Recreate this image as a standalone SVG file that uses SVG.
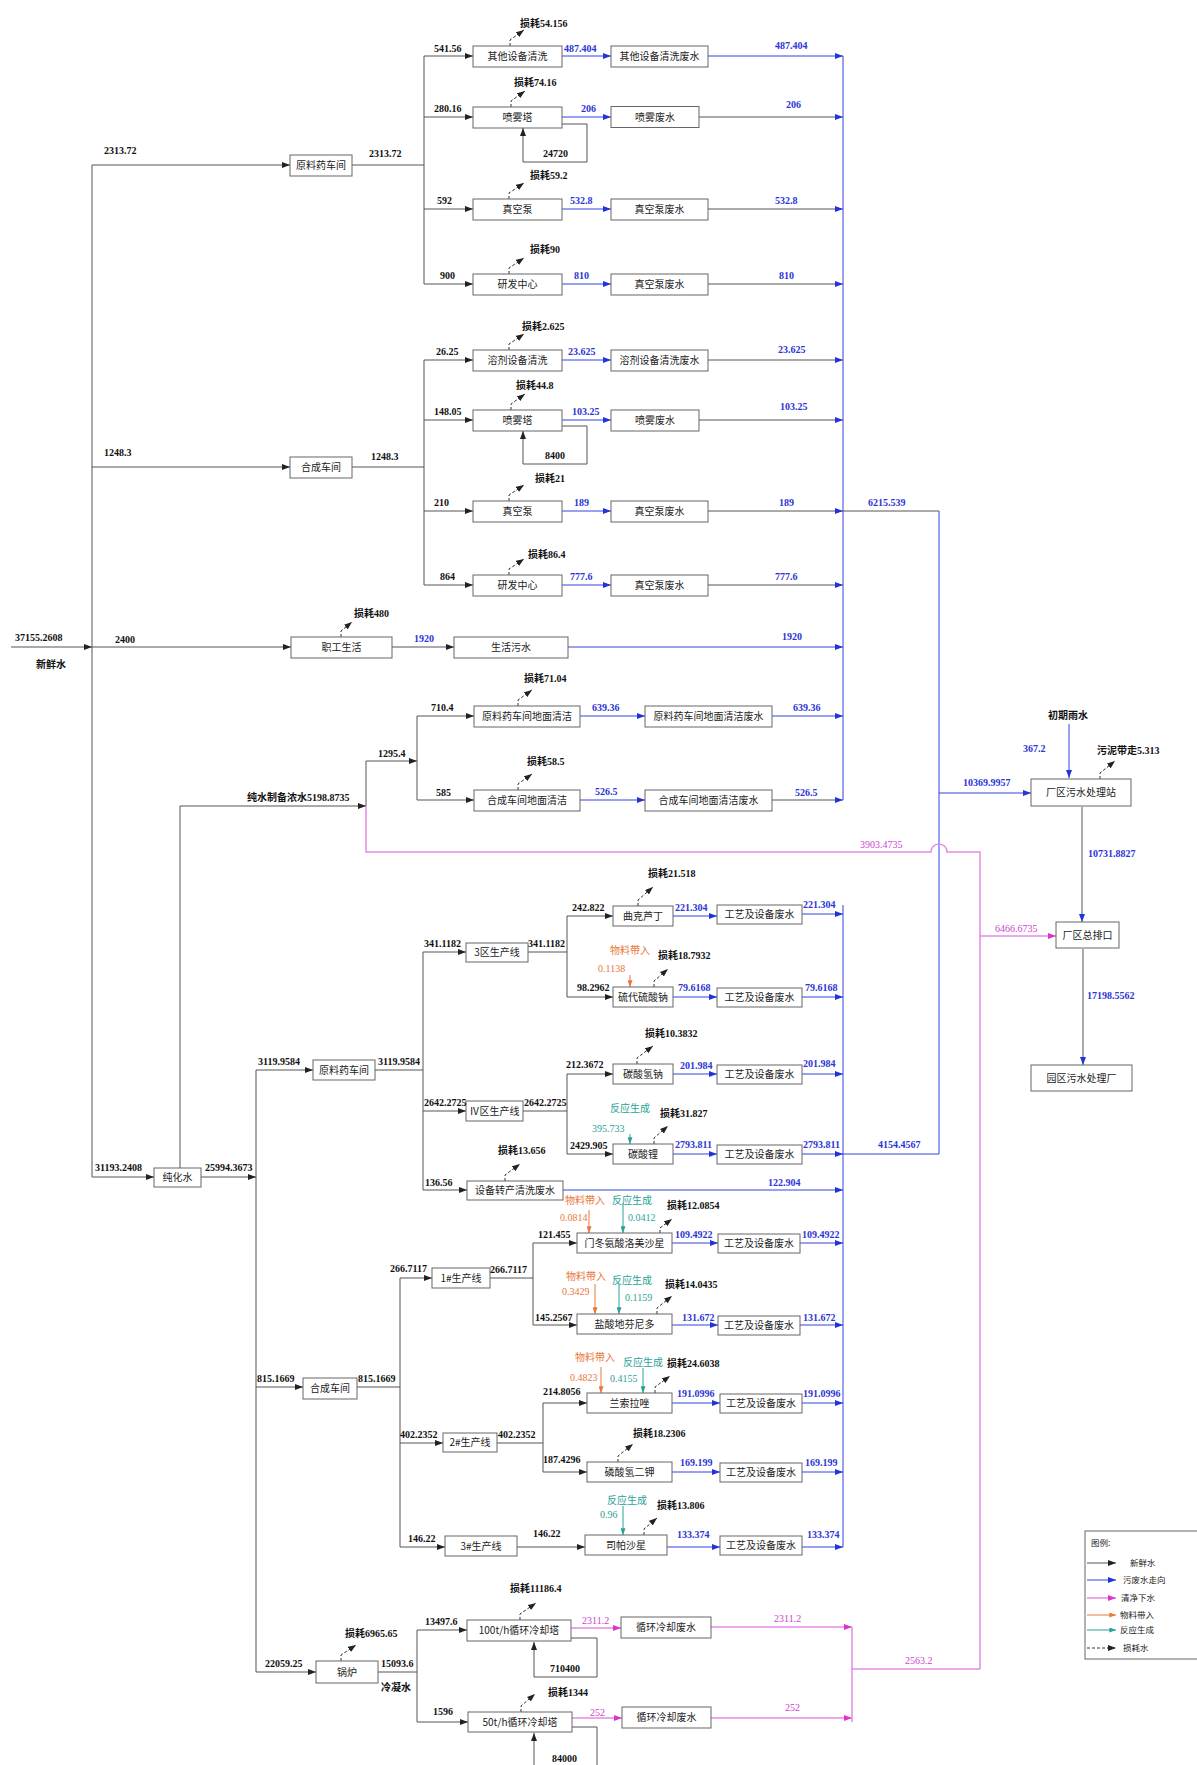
<svg xmlns="http://www.w3.org/2000/svg" width="1197" height="1765" viewBox="0 0 1197 1765">
<defs>
<style>
.box{fill:#fff;stroke:#666;stroke-width:1}
.bt{font-family:"Noto Sans CJK SC",sans-serif;font-size:10px;fill:#222;text-anchor:middle}
.n{font-family:"Liberation Serif","Noto Sans CJK SC",serif;font-size:10px;font-weight:bold;fill:#111}
.nb{font-family:"Liberation Serif","Noto Sans CJK SC",serif;font-size:10px;font-weight:bold;fill:#2b35d6}
.np{font-family:"Liberation Serif","Noto Sans CJK SC",serif;font-size:10px;fill:#cc44cc}
.no{font-family:"Liberation Serif","Noto Sans CJK SC",serif;font-size:10px;fill:#e8773a}
.nt{font-family:"Liberation Serif","Noto Sans CJK SC",serif;font-size:10px;fill:#2aa198}
.lg{font-family:"Noto Sans CJK SC",sans-serif;font-size:8.5px;fill:#222}
.k{stroke:#555;stroke-width:1;fill:none}
.b{stroke:#3344dd;stroke-width:1;fill:none}
.p{stroke:#e68ae6;stroke-width:1.5;fill:none}
.o{stroke:#e8773a;stroke-width:1;fill:none}
.t{stroke:#2aa198;stroke-width:1;fill:none}
.d{stroke:#333;stroke-width:1;fill:none;stroke-dasharray:3 2}
</style>
<marker id="ak" viewBox="0 0 8 6" refX="8" refY="3" markerWidth="8" markerHeight="6" markerUnits="userSpaceOnUse" orient="auto"><path d="M0,0L8,3L0,6z" fill="#222"/></marker>
<marker id="ab" viewBox="0 0 8 6" refX="8" refY="3" markerWidth="8" markerHeight="6" markerUnits="userSpaceOnUse" orient="auto"><path d="M0,0L8,3L0,6z" fill="#2233dd"/></marker>
<marker id="ap" viewBox="0 0 8 6" refX="8" refY="3" markerWidth="8" markerHeight="6" markerUnits="userSpaceOnUse" orient="auto"><path d="M0,0L8,3L0,6z" fill="#dd33cc"/></marker>
<marker id="ao" viewBox="0 0 8 6" refX="8" refY="3" markerWidth="7" markerHeight="5" markerUnits="userSpaceOnUse" orient="auto"><path d="M0,0L8,3L0,6z" fill="#e8773a"/></marker>
<marker id="at" viewBox="0 0 8 6" refX="8" refY="3" markerWidth="7" markerHeight="5" markerUnits="userSpaceOnUse" orient="auto"><path d="M0,0L8,3L0,6z" fill="#2aa198"/></marker>
</defs>
<rect x="0" y="0" width="1197" height="1765" fill="#fff"/>

<g id="connectors">
<path class="k" d="M11,647H92" marker-end="url(#ak)"/>
<path class="k" d="M92,165V1177"/>
<path class="k" d="M92,165H290" marker-end="url(#ak)"/>
<path class="k" d="M92,467H290" marker-end="url(#ak)"/>
<path class="k" d="M92,647H291" marker-end="url(#ak)"/>
<path class="k" d="M92,1177H154" marker-end="url(#ak)"/>
<path class="k" d="M352,165H424M424,56V284"/>
<path class="k" d="M424,56H473" marker-end="url(#ak)"/>
<path class="k" d="M424,117H473" marker-end="url(#ak)"/>
<path class="k" d="M424,209H473" marker-end="url(#ak)"/>
<path class="k" d="M424,284H473" marker-end="url(#ak)"/>
<path class="b" d="M562,56H611" marker-end="url(#ab)"/>
<path class="b" d="M562,117H611" marker-end="url(#ab)"/>
<path class="b" d="M562,209H611" marker-end="url(#ab)"/>
<path class="b" d="M562,284H611" marker-end="url(#ab)"/>
<path class="b" d="M708,56H843" marker-end="url(#ab)"/>
<path class="k" d="M699,117H843" marker-end="url(#ab)"/>
<path class="k" d="M708,209H843" marker-end="url(#ab)"/>
<path class="k" d="M708,284H843" marker-end="url(#ab)"/>
<path class="k" d="M562,124H587V162H523V128" marker-end="url(#ak)"/>
<path class="k" d="M352,467H424M424,360V585"/>
<path class="k" d="M424,360H473" marker-end="url(#ak)"/>
<path class="k" d="M424,420H473" marker-end="url(#ak)"/>
<path class="k" d="M424,511H473" marker-end="url(#ak)"/>
<path class="k" d="M424,585H473" marker-end="url(#ak)"/>
<path class="b" d="M562,360H611" marker-end="url(#ab)"/>
<path class="b" d="M562,420H611" marker-end="url(#ab)"/>
<path class="b" d="M562,511H611" marker-end="url(#ab)"/>
<path class="b" d="M562,585H611" marker-end="url(#ab)"/>
<path class="k" d="M708,360H843" marker-end="url(#ab)"/>
<path class="k" d="M699,420H843" marker-end="url(#ab)"/>
<path class="k" d="M708,511H843" marker-end="url(#ab)"/>
<path class="k" d="M708,585H843" marker-end="url(#ab)"/>
<path class="k" d="M562,426H587V464H523V431" marker-end="url(#ak)"/>
<path class="k" d="M392,647H454" marker-end="url(#ak)"/>
<path class="b" d="M568,647H843" marker-end="url(#ab)"/>
<path class="k" d="M180,1168V806H366" marker-end="url(#ak)"/>
<path class="k" d="M366,761V806"/>
<path class="k" d="M366,761H417" marker-end="url(#ak)"/>
<path class="k" d="M417,716V800"/>
<path class="k" d="M417,716H474" marker-end="url(#ak)"/>
<path class="k" d="M417,800H474" marker-end="url(#ak)"/>
<path class="b" d="M580,716H645" marker-end="url(#ab)"/>
<path class="b" d="M580,800H645" marker-end="url(#ab)"/>
<path class="b" d="M772,716H843" marker-end="url(#ab)"/>
<path class="k" d="M772,800H843" marker-end="url(#ab)"/>
<path class="b" d="M843,56V800"/>
<path class="k" d="M843,511H939"/>
<path class="b" d="M939,511V1154"/>
<path class="b" d="M939,793H1031" marker-end="url(#ab)"/>
<path class="b" d="M843,905V1547"/>
<path class="b" d="M843,1154H939"/>
<path class="p" d="M366,806V852H931A8,8 0 0 1 947,852H980V1669"/>
<path class="p" d="M980,936H1056" marker-end="url(#ap)"/>
<path class="b" d="M1069,724V778" marker-end="url(#ab)"/>
<path class="k" d="M1082,807V922" marker-end="url(#ab)"/>
<path class="k" d="M1083,949V1065" marker-end="url(#ab)"/>
<path class="k" d="M201,1177H256" marker-end="url(#ak)"/>
<path class="k" d="M256,1070V1672"/>
<path class="k" d="M256,1070H313" marker-end="url(#ak)"/>
<path class="k" d="M375,1070H423M423,952V1190"/>
<path class="k" d="M423,952H466" marker-end="url(#ak)"/>
<path class="k" d="M423,1111H466" marker-end="url(#ak)"/>
<path class="k" d="M423,1190H467" marker-end="url(#ak)"/>
<path class="k" d="M528,952H567M567,916V997"/>
<path class="k" d="M567,916H613" marker-end="url(#ak)"/>
<path class="k" d="M567,997H613" marker-end="url(#ak)"/>
<path class="k" d="M523,1111H567M567,1074V1154"/>
<path class="k" d="M567,1074H613" marker-end="url(#ak)"/>
<path class="k" d="M567,1154H613" marker-end="url(#ak)"/>
<path class="b" d="M673,916H717" marker-end="url(#ab)"/>
<path class="b" d="M673,997H717" marker-end="url(#ab)"/>
<path class="b" d="M673,1074H717" marker-end="url(#ab)"/>
<path class="b" d="M673,1154H717" marker-end="url(#ab)"/>
<path class="b" d="M802,914H843" marker-end="url(#ab)"/>
<path class="b" d="M802,997H843" marker-end="url(#ab)"/>
<path class="b" d="M802,1074H843" marker-end="url(#ab)"/>
<path class="b" d="M802,1154H843" marker-end="url(#ab)"/>
<path class="b" d="M563,1190H843" marker-end="url(#ab)"/>
<path class="k" d="M256,1387H303" marker-end="url(#ak)"/>
<path class="k" d="M357,1387H400M400,1278V1547"/>
<path class="k" d="M400,1278H432" marker-end="url(#ak)"/>
<path class="k" d="M400,1443H443" marker-end="url(#ak)"/>
<path class="k" d="M400,1547H445" marker-end="url(#ak)"/>
<path class="k" d="M490,1278H533M533,1243V1325"/>
<path class="k" d="M533,1243H577" marker-end="url(#ak)"/>
<path class="k" d="M533,1325H577" marker-end="url(#ak)"/>
<path class="k" d="M497,1443H543M543,1403V1472"/>
<path class="k" d="M543,1403H587" marker-end="url(#ak)"/>
<path class="k" d="M543,1472H587" marker-end="url(#ak)"/>
<path class="k" d="M517,1547H585" marker-end="url(#ak)"/>
<path class="b" d="M672,1243H718" marker-end="url(#ab)"/>
<path class="b" d="M672,1325H718" marker-end="url(#ab)"/>
<path class="b" d="M672,1403H720" marker-end="url(#ab)"/>
<path class="b" d="M672,1472H720" marker-end="url(#ab)"/>
<path class="b" d="M667,1547H720" marker-end="url(#ab)"/>
<path class="b" d="M800,1243H843" marker-end="url(#ab)"/>
<path class="b" d="M800,1325H843" marker-end="url(#ab)"/>
<path class="b" d="M802,1403H843" marker-end="url(#ab)"/>
<path class="b" d="M802,1472H843" marker-end="url(#ab)"/>
<path class="b" d="M802,1547H843" marker-end="url(#ab)"/>
<path class="k" d="M256,1672H316" marker-end="url(#ak)"/>
<path class="k" d="M378,1672H417M417,1630V1722"/>
<path class="k" d="M417,1630H467" marker-end="url(#ak)"/>
<path class="k" d="M417,1722H468" marker-end="url(#ak)"/>
<path class="k" d="M571,1638H597V1677H534V1642" marker-end="url(#ak)"/>
<path class="k" d="M572,1727H597V1775H534V1733" marker-end="url(#ak)"/>
<path class="p" d="M571,1628H621" marker-end="url(#ap)"/>
<path class="p" d="M711,1627H852" marker-end="url(#ap)"/>
<path class="p" d="M572,1718H622" marker-end="url(#ap)"/>
<path class="p" d="M711,1718H852" marker-end="url(#ap)"/>
<path class="p" d="M852,1627V1722M852,1669H980"/>
<path class="d" d="M510,46V40L524,30" marker-end="url(#ak)"/>
<path class="d" d="M511,107V101L525,91" marker-end="url(#ak)"/>
<path class="d" d="M509,199V193L524,183" marker-end="url(#ak)"/>
<path class="d" d="M509,274V268L524,258" marker-end="url(#ak)"/>
<path class="d" d="M509,350V344L524,334" marker-end="url(#ak)"/>
<path class="d" d="M511,410V404L525,394" marker-end="url(#ak)"/>
<path class="d" d="M509,501V495L524,485" marker-end="url(#ak)"/>
<path class="d" d="M509,575V569L524,559" marker-end="url(#ak)"/>
<path class="d" d="M341,637V631L352,622" marker-end="url(#ak)"/>
<path class="d" d="M518,706V700L532,690" marker-end="url(#ak)"/>
<path class="d" d="M518,790V784L532,774" marker-end="url(#ak)"/>
<path class="d" d="M638,906V900L653,887" marker-end="url(#ak)"/>
<path class="d" d="M654,987V981L668,969" marker-end="url(#ak)"/>
<path class="d" d="M637,1064V1058L653,1046" marker-end="url(#ak)"/>
<path class="d" d="M654,1144V1138L668,1126" marker-end="url(#ak)"/>
<path class="d" d="M505,1181V1175L520,1164" marker-end="url(#ak)"/>
<path class="d" d="M660,1233V1228L672,1219" marker-end="url(#ak)"/>
<path class="d" d="M657,1314V1308L672,1296" marker-end="url(#ak)"/>
<path class="d" d="M655,1393V1387L670,1376" marker-end="url(#ak)"/>
<path class="d" d="M618,1462V1456L633,1444" marker-end="url(#ak)"/>
<path class="d" d="M644,1535V1529L657,1518" marker-end="url(#ak)"/>
<path class="d" d="M341,1661V1655L356,1645" marker-end="url(#ak)"/>
<path class="d" d="M520,1620V1614L536,1603" marker-end="url(#ak)"/>
<path class="d" d="M521,1712V1706L535,1694" marker-end="url(#ak)"/>
<path class="d" d="M1100,779V773L1115,761" marker-end="url(#ak)"/>
<path class="o" d="M630,975V987" marker-end="url(#ao)"/>
<path class="t" d="M630,1134V1144" marker-end="url(#at)"/>
<path class="o" d="M589,1210V1233" marker-end="url(#ao)"/>
<path class="t" d="M623,1203V1233" marker-end="url(#at)"/>
<path class="o" d="M595,1284V1314" marker-end="url(#ao)"/>
<path class="t" d="M619,1284V1314" marker-end="url(#at)"/>
<path class="o" d="M601,1367V1393" marker-end="url(#ao)"/>
<path class="t" d="M643,1368V1393" marker-end="url(#at)"/>
<path class="t" d="M623,1506V1535" marker-end="url(#at)"/>
</g>

<g id="nodes">
<g id="n-ws1"><rect class="box" x="290" y="155" width="62" height="21"/><text class="bt" x="321" y="169">原料药车间</text></g>
<g id="n-a1"><rect class="box" x="473" y="46" width="89" height="21"/><text class="bt" x="517.5" y="60">其他设备清洗</text></g>
<g id="n-a2"><rect class="box" x="473" y="107" width="89" height="21"/><text class="bt" x="517.5" y="121">喷雾塔</text></g>
<g id="n-a3"><rect class="box" x="473" y="199" width="89" height="21"/><text class="bt" x="517.5" y="213">真空泵</text></g>
<g id="n-a4"><rect class="box" x="473" y="274" width="89" height="21"/><text class="bt" x="517.5" y="288">研发中心</text></g>
<g id="n-aw1"><rect class="box" x="611" y="46" width="97" height="21"/><text class="bt" x="659.5" y="60">其他设备清洗废水</text></g>
<g id="n-aw2"><rect class="box" x="611" y="106.5" width="88" height="21"/><text class="bt" x="655" y="120.5">喷雾废水</text></g>
<g id="n-aw3"><rect class="box" x="611" y="199" width="97" height="21"/><text class="bt" x="659.5" y="213">真空泵废水</text></g>
<g id="n-aw4"><rect class="box" x="611" y="274" width="97" height="21"/><text class="bt" x="659.5" y="288">真空泵废水</text></g>

<g id="n-ws2"><rect class="box" x="290" y="457" width="62" height="21"/><text class="bt" x="321" y="471">合成车间</text></g>
<g id="n-b1"><rect class="box" x="473" y="350" width="89" height="21"/><text class="bt" x="517.5" y="364">溶剂设备清洗</text></g>
<g id="n-b2"><rect class="box" x="473" y="410" width="89" height="21"/><text class="bt" x="517.5" y="424">喷雾塔</text></g>
<g id="n-b3"><rect class="box" x="473" y="501" width="89" height="21"/><text class="bt" x="517.5" y="515">真空泵</text></g>
<g id="n-b4"><rect class="box" x="473" y="575" width="89" height="21"/><text class="bt" x="517.5" y="589">研发中心</text></g>
<g id="n-bw1"><rect class="box" x="611" y="350" width="97" height="21"/><text class="bt" x="659.5" y="364">溶剂设备清洗废水</text></g>
<g id="n-bw2"><rect class="box" x="611" y="410" width="88" height="21"/><text class="bt" x="655" y="424">喷雾废水</text></g>
<g id="n-bw3"><rect class="box" x="611" y="501" width="97" height="21"/><text class="bt" x="659.5" y="515">真空泵废水</text></g>
<g id="n-bw4"><rect class="box" x="611" y="575" width="97" height="21"/><text class="bt" x="659.5" y="589">真空泵废水</text></g>

<g id="n-c1"><rect class="box" x="291" y="637" width="101" height="21"/><text class="bt" x="341.5" y="651">职工生活</text></g>
<g id="n-cw1"><rect class="box" x="454" y="637" width="114" height="21"/><text class="bt" x="511" y="651">生活污水</text></g>

<g id="n-d1"><rect class="box" x="474" y="706" width="106" height="21"/><text class="bt" x="527" y="720">原料药车间地面清洁</text></g>
<g id="n-dw1"><rect class="box" x="645" y="706" width="127" height="21"/><text class="bt" x="708.5" y="720">原料药车间地面清洁废水</text></g>
<g id="n-d2"><rect class="box" x="474" y="790" width="106" height="21"/><text class="bt" x="527" y="804">合成车间地面清洁</text></g>
<g id="n-dw2"><rect class="box" x="645" y="790" width="127" height="21"/><text class="bt" x="708.5" y="804">合成车间地面清洁废水</text></g>

<g id="n-pw"><rect class="box" x="154" y="1168" width="47" height="19"/><text class="bt" x="177.5" y="1181">纯化水</text></g>

<g id="n-ws3"><rect class="box" x="313" y="1060" width="62" height="20"/><text class="bt" x="344" y="1073.5">原料药车间</text></g>
<g id="n-e1"><rect class="box" x="466" y="943" width="62" height="19"/><text class="bt" x="497" y="956">3区生产线</text></g>
<g id="n-e2"><rect class="box" x="466" y="1101" width="57" height="20"/><text class="bt" x="494.5" y="1114.5">Ⅳ区生产线</text></g>
<g id="n-e11"><rect class="box" x="613" y="906" width="60" height="20"/><text class="bt" x="643" y="919.5">曲克芦丁</text></g>
<g id="n-e12"><rect class="box" x="613" y="987" width="60" height="20"/><text class="bt" x="643" y="1000.5">硫代硫酸钠</text></g>
<g id="n-e21"><rect class="box" x="613" y="1064" width="60" height="20"/><text class="bt" x="643" y="1077.5">碳酸氢钠</text></g>
<g id="n-e22"><rect class="box" x="613" y="1144" width="60" height="20"/><text class="bt" x="643" y="1157.5">碳酸锂</text></g>
<g id="n-ew11"><rect class="box" x="717" y="905" width="85" height="19"/><text class="bt" x="759.5" y="918">工艺及设备废水</text></g>
<g id="n-ew12"><rect class="box" x="717" y="988" width="85" height="19"/><text class="bt" x="759.5" y="1001">工艺及设备废水</text></g>
<g id="n-ew21"><rect class="box" x="717" y="1065" width="85" height="19"/><text class="bt" x="759.5" y="1078">工艺及设备废水</text></g>
<g id="n-ew22"><rect class="box" x="717" y="1145" width="85" height="19"/><text class="bt" x="759.5" y="1158">工艺及设备废水</text></g>
<g id="n-e3"><rect class="box" x="467" y="1181" width="96" height="19"/><text class="bt" x="515" y="1194">设备转产清洗废水</text></g>

<g id="n-ws4"><rect class="box" x="303" y="1378" width="54" height="21"/><text class="bt" x="330" y="1392">合成车间</text></g>
<g id="n-f1"><rect class="box" x="432" y="1268" width="58" height="20"/><text class="bt" x="461" y="1281.5">1#生产线</text></g>
<g id="n-f2"><rect class="box" x="443" y="1433" width="54" height="19"/><text class="bt" x="470" y="1446">2#生产线</text></g>
<g id="n-f3"><rect class="box" x="445" y="1536" width="72" height="20"/><text class="bt" x="481" y="1549.5">3#生产线</text></g>
<g id="n-f11"><rect class="box" x="577" y="1233" width="95" height="20"/><text class="bt" x="624.5" y="1246.5">门冬氨酸洛美沙星</text></g>
<g id="n-f12"><rect class="box" x="577" y="1314" width="95" height="20"/><text class="bt" x="624.5" y="1327.5">盐酸地芬尼多</text></g>
<g id="n-f21"><rect class="box" x="587" y="1393" width="85" height="20"/><text class="bt" x="629.5" y="1406.5">兰索拉唑</text></g>
<g id="n-f22"><rect class="box" x="587" y="1462" width="85" height="20"/><text class="bt" x="629.5" y="1475.5">磷酸氢二钾</text></g>
<g id="n-f31"><rect class="box" x="585" y="1535" width="82" height="20"/><text class="bt" x="626" y="1548.5">司帕沙星</text></g>
<g id="n-fw11"><rect class="box" x="718" y="1234" width="82" height="19"/><text class="bt" x="759" y="1247">工艺及设备废水</text></g>
<g id="n-fw12"><rect class="box" x="718" y="1316" width="82" height="19"/><text class="bt" x="759" y="1329">工艺及设备废水</text></g>
<g id="n-fw21"><rect class="box" x="720" y="1394" width="82" height="19"/><text class="bt" x="761" y="1407">工艺及设备废水</text></g>
<g id="n-fw22"><rect class="box" x="720" y="1463" width="82" height="19"/><text class="bt" x="761" y="1476">工艺及设备废水</text></g>
<g id="n-fw31"><rect class="box" x="720" y="1536" width="82" height="19"/><text class="bt" x="761" y="1549">工艺及设备废水</text></g>

<g id="n-g0"><rect class="box" x="316" y="1661" width="62" height="22"/><text class="bt" x="347" y="1675.5">锅炉</text></g>
<g id="n-g1"><rect class="box" x="467" y="1620" width="104" height="21"/><text class="bt" x="519" y="1634">100t/h循环冷却塔</text></g>
<g id="n-g2"><rect class="box" x="468" y="1712" width="104" height="20"/><text class="bt" x="520" y="1725.5">50t/h循环冷却塔</text></g>
<g id="n-gw1"><rect class="box" x="621" y="1617" width="90" height="21"/><text class="bt" x="666" y="1631">循环冷却废水</text></g>
<g id="n-gw2"><rect class="box" x="622" y="1707" width="89" height="21"/><text class="bt" x="666.5" y="1721">循环冷却废水</text></g>

<g id="n-h1"><rect class="box" x="1031" y="779" width="100" height="27"/><text class="bt" x="1081" y="796">厂区污水处理站</text></g>
<g id="n-h2"><rect class="box" x="1056" y="922" width="63" height="26"/><text class="bt" x="1087.5" y="938.5">厂区总排口</text></g>
<g id="n-h3"><rect class="box" x="1031" y="1065" width="101" height="26"/><text class="bt" x="1081.5" y="1081.5">园区污水处理厂</text></g>
</g>

<g id="labels">
<text class="n" x="104" y="154">2313.72</text>
<text class="n" x="369" y="157">2313.72</text>
<text class="n" x="434" y="52">541.56</text>
<text class="n" x="434" y="112">280.16</text>
<text class="n" x="437" y="204">592</text>
<text class="n" x="440" y="279">900</text>
<text class="nb" x="564" y="52">487.404</text>
<text class="nb" x="581" y="112">206</text>
<text class="nb" x="570" y="204">532.8</text>
<text class="nb" x="574" y="279">810</text>
<text class="nb" x="775" y="49">487.404</text>
<text class="nb" x="786" y="108">206</text>
<text class="nb" x="775" y="204">532.8</text>
<text class="nb" x="779" y="279">810</text>
<text class="n" x="520" y="27">损耗54.156</text>
<text class="n" x="514" y="86">损耗74.16</text>
<text class="n" x="530" y="179">损耗59.2</text>
<text class="n" x="530" y="253">损耗90</text>
<text class="n" x="543" y="157">24720</text>

<text class="n" x="104" y="456">1248.3</text>
<text class="n" x="371" y="460">1248.3</text>
<text class="n" x="436" y="355">26.25</text>
<text class="n" x="434" y="415">148.05</text>
<text class="n" x="434" y="506">210</text>
<text class="n" x="440" y="580">864</text>
<text class="nb" x="568" y="355">23.625</text>
<text class="nb" x="572" y="415">103.25</text>
<text class="nb" x="574" y="506">189</text>
<text class="nb" x="570" y="580">777.6</text>
<text class="nb" x="778" y="353">23.625</text>
<text class="nb" x="780" y="410">103.25</text>
<text class="nb" x="779" y="506">189</text>
<text class="nb" x="775" y="580">777.6</text>
<text class="n" x="522" y="330">损耗2.625</text>
<text class="n" x="516" y="389">损耗44.8</text>
<text class="n" x="535" y="482">损耗21</text>
<text class="n" x="528" y="558">损耗86.4</text>
<text class="n" x="545" y="459">8400</text>
<text class="nb" x="868" y="506">6215.539</text>

<text class="n" x="15" y="641">37155.2608</text>
<text class="n" x="36" y="668">新鲜水</text>
<text class="n" x="115" y="643">2400</text>
<text class="n" x="354" y="617">损耗480</text>
<text class="nb" x="414" y="642">1920</text>
<text class="nb" x="782" y="640">1920</text>

<text class="n" x="247" y="801">纯水制备浓水5198.8735</text>
<text class="n" x="378" y="757">1295.4</text>
<text class="n" x="431" y="711">710.4</text>
<text class="n" x="436" y="796">585</text>
<text class="n" x="524" y="682">损耗71.04</text>
<text class="n" x="527" y="765">损耗58.5</text>
<text class="nb" x="592" y="711">639.36</text>
<text class="nb" x="595" y="795">526.5</text>
<text class="nb" x="793" y="711">639.36</text>
<text class="nb" x="795" y="796">526.5</text>
<text class="np" x="860" y="848">3903.4735</text>

<text class="n" x="1048" y="719">初期雨水</text>
<text class="nb" x="1023" y="752">367.2</text>
<text class="n" x="1097" y="754">污泥带走5.313</text>
<text class="nb" x="963" y="786">10369.9957</text>
<text class="nb" x="1088" y="857">10731.8827</text>
<text class="np" x="995" y="932">6466.6735</text>
<text class="nb" x="1087" y="999">17198.5562</text>

<text class="n" x="95" y="1171">31193.2408</text>
<text class="n" x="205" y="1171">25994.3673</text>
<text class="n" x="258" y="1065">3119.9584</text>
<text class="n" x="378" y="1065">3119.9584</text>
<text class="n" x="424" y="947">341.1182</text>
<text class="n" x="528" y="947">341.1182</text>
<text class="n" x="572" y="911">242.822</text>
<text class="n" x="648" y="877">损耗21.518</text>
<text class="nb" x="675" y="911">221.304</text>
<text class="nb" x="803" y="908">221.304</text>
<text class="no" x="610" y="954">物料带入</text>
<text class="no" x="598" y="972">0.1138</text>
<text class="n" x="658" y="959">损耗18.7932</text>
<text class="n" x="577" y="991">98.2962</text>
<text class="nb" x="678" y="991">79.6168</text>
<text class="nb" x="805" y="991">79.6168</text>
<text class="n" x="424" y="1106">2642.2725</text>
<text class="n" x="524" y="1106">2642.2725</text>
<text class="n" x="566" y="1068">212.3672</text>
<text class="n" x="645" y="1037">损耗10.3832</text>
<text class="nb" x="680" y="1069">201.984</text>
<text class="nb" x="803" y="1067">201.984</text>
<text class="nt" x="610" y="1112">反应生成</text>
<text class="nt" x="592" y="1132">395.733</text>
<text class="n" x="660" y="1117">损耗31.827</text>
<text class="n" x="570" y="1149">2429.905</text>
<text class="nb" x="675" y="1148">2793.811</text>
<text class="nb" x="803" y="1148">2793.811</text>
<text class="nb" x="878" y="1148">4154.4567</text>
<text class="n" x="498" y="1154">损耗13.656</text>
<text class="n" x="425" y="1186">136.56</text>
<text class="nb" x="768" y="1186">122.904</text>

<text class="n" x="257" y="1382">815.1669</text>
<text class="n" x="358" y="1382">815.1669</text>
<text class="n" x="390" y="1272">266.7117</text>
<text class="n" x="490" y="1273">266.7117</text>
<text class="n" x="538" y="1238">121.455</text>
<text class="no" x="565" y="1204">物料带入</text>
<text class="no" x="560" y="1221">0.0814</text>
<text class="nt" x="612" y="1204">反应生成</text>
<text class="nt" x="628" y="1221">0.0412</text>
<text class="n" x="667" y="1209">损耗12.0854</text>
<text class="nb" x="675" y="1238">109.4922</text>
<text class="nb" x="802" y="1238">109.4922</text>
<text class="n" x="535" y="1321">145.2567</text>
<text class="no" x="566" y="1280">物料带入</text>
<text class="no" x="562" y="1295">0.3429</text>
<text class="nt" x="612" y="1284">反应生成</text>
<text class="nt" x="625" y="1301">0.1159</text>
<text class="n" x="665" y="1288">损耗14.0435</text>
<text class="nb" x="682" y="1321">131.672</text>
<text class="nb" x="803" y="1321">131.672</text>
<text class="n" x="400" y="1438">402.2352</text>
<text class="n" x="498" y="1438">402.2352</text>
<text class="n" x="543" y="1395">214.8056</text>
<text class="no" x="575" y="1361">物料带入</text>
<text class="no" x="570" y="1381">0.4823</text>
<text class="nt" x="623" y="1366">反应生成</text>
<text class="nt" x="610" y="1382">0.4155</text>
<text class="n" x="667" y="1367">损耗24.6038</text>
<text class="nb" x="677" y="1397">191.0996</text>
<text class="nb" x="803" y="1397">191.0996</text>
<text class="n" x="543" y="1463">187.4296</text>
<text class="n" x="633" y="1437">损耗18.2306</text>
<text class="nb" x="680" y="1466">169.199</text>
<text class="nb" x="805" y="1466">169.199</text>
<text class="n" x="408" y="1542">146.22</text>
<text class="n" x="533" y="1537">146.22</text>
<text class="nt" x="607" y="1504">反应生成</text>
<text class="nt" x="600" y="1518">0.96</text>
<text class="n" x="657" y="1509">损耗13.806</text>
<text class="nb" x="677" y="1538">133.374</text>
<text class="nb" x="807" y="1538">133.374</text>

<text class="n" x="265" y="1667">22059.25</text>
<text class="n" x="345" y="1637">损耗6965.65</text>
<text class="n" x="381" y="1667">15093.6</text>
<text class="n" x="381" y="1691">冷凝水</text>
<text class="n" x="425" y="1625">13497.6</text>
<text class="n" x="510" y="1592">损耗11186.4</text>
<text class="np" x="582" y="1624">2311.2</text>
<text class="np" x="774" y="1622">2311.2</text>
<text class="n" x="550" y="1672">710400</text>
<text class="n" x="433" y="1715">1596</text>
<text class="n" x="548" y="1696">损耗1344</text>
<text class="np" x="590" y="1716">252</text>
<text class="np" x="785" y="1711">252</text>
<text class="n" x="552" y="1762">84000</text>
<text class="np" x="905" y="1664">2563.2</text>
</g>

<g id="legend">
<rect x="1085" y="1531" width="120" height="128" fill="#fff" stroke="#666" stroke-width="1"/>
<text class="lg" x="1091" y="1546">图例:</text>
<path class="k" d="M1087,1563H1116" marker-end="url(#ak)"/>
<text class="lg" x="1130" y="1566">新鲜水</text>
<path class="b" d="M1087,1580H1116" marker-end="url(#ab)"/>
<text class="lg" x="1123" y="1583">污废水走向</text>
<path class="p" d="M1087,1598H1116" marker-end="url(#ap)"/>
<text class="lg" x="1121" y="1601">清净下水</text>
<path class="o" d="M1087,1615H1116" marker-end="url(#ao)"/>
<text class="lg" x="1120" y="1618">物料带入</text>
<path class="t" d="M1087,1630H1116" marker-end="url(#at)"/>
<text class="lg" x="1120" y="1633">反应生成</text>
<path class="d" d="M1087,1648H1116" marker-end="url(#ak)"/>
<text class="lg" x="1123" y="1651">损耗水</text>
</g>
</svg>
